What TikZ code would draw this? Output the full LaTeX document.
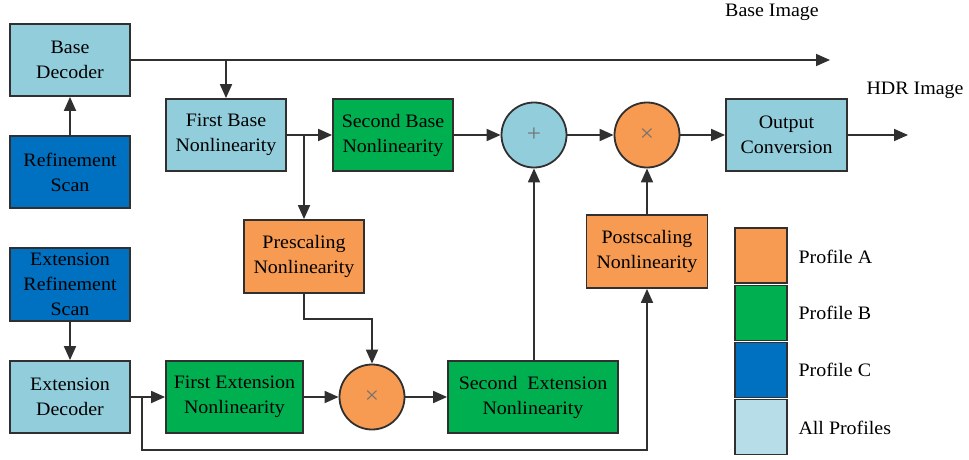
\documentclass[tikz,border=0pt]{standalone}
\usepackage{fontspec}
\setmainfont[FakeStretch=1.05]{Liberation Serif}
\usetikzlibrary{arrows.meta,calc}
\definecolor{lblue}{HTML}{92CDDC}
\definecolor{llblue}{HTML}{B7DEE8}
\definecolor{dblue}{HTML}{0070C0}
\definecolor{pgreen}{HTML}{00B050}
\definecolor{porange}{HTML}{F79A52}
\definecolor{edge}{HTML}{303030}
\tikzset{
  blk/.style={draw=edge, line width=1.8pt, minimum width=120pt, minimum height=72pt,
    align=center, inner sep=2pt, font=\fontsize{19}{25}\selectfont, text=black},
  op/.style={draw=edge, line width=1.8pt, circle, minimum size=65pt, inner sep=0pt,
    font=\fontsize{24}{24}\selectfont, text=black!55},
  lg/.style={draw=edge, line width=1.8pt, minimum width=52pt, minimum height=55pt},
  lbl/.style={font=\fontsize{19}{25}\selectfont, text=black},
  conn/.style={draw=edge, line width=1.8pt, -{Triangle[length=14pt,width=12pt]}},
  wire/.style={draw=edge, line width=1.8pt}
}
\begin{document}
\begin{tikzpicture}[x=1pt,y=-1pt]
\useasboundingbox (0,0) rectangle (969,460);
% blocks
\node[blk, fill=lblue] (bd) at (70,60) {Base\\Decoder};
\node[blk, fill=dblue] (rs) at (70,172) {Refinement\\Scan};
\node[blk, fill=lblue] (fb) at (226,135) {First Base\\Nonlinearity};
\node[blk, fill=pgreen] (sb) at (393,135) {Second Base\\Nonlinearity};
\node[op, fill=lblue] (plus) at (534,135) {+};
\node[op, fill=porange] (tm1) at (647,135) {×};
\node[blk, fill=lblue, minimum width=121pt] (oc) at (786.5,135) {Output\\Conversion};
\node[blk, fill=dblue, minimum height=73pt] (ers) at (70,284.5) {Extension\\Refinement\\Scan};
\node[blk, fill=lblue] (ed) at (70,397) {Extension\\Decoder};
\node[blk, fill=porange, minimum height=73pt] (pre) at (304,256.5) {Prescaling\\Nonlinearity};
\node[blk, fill=pgreen, minimum width=137pt] (fe) at (234.5,397) {First Extension\\Nonlinearity};
\node[op, fill=porange] (tm2) at (372,397) {×};
\node[blk, fill=pgreen, minimum width=170pt] (se) at (533,397) {Second\ \ Extension\\Nonlinearity};
\node[blk, fill=porange, minimum width=121pt, minimum height=73pt] (post) at (647,251.5) {Postscaling\\Nonlinearity};
% legend
\node[lg, fill=porange] (la) at (761,255.5) {};
\node[lg, fill=pgreen] (lb) at (761,313) {};
\node[lg, fill=dblue] (lc) at (761,370) {};
\node[lg, fill=llblue] (ld) at (761,427) {};
\node[lbl, anchor=west] (ta) at (795,257) {Profile A};
\node[lbl, anchor=west] (tb) at (795,313) {Profile B};
\node[lbl, anchor=west] (tc) at (795,370) {Profile C};
\node[lbl, anchor=west] (td) at (795,428) {All Profiles};
% output labels
\node[lbl] (bimg) at (772,12) {Base Image};
\node[lbl] (himg) at (915,90) {HDR Image};
\coordinate (bend) at (830,60);
\coordinate (hend) at (908,135);
\coordinate (pbr) at (304,135);
\coordinate (pturn1) at (304,319);
\coordinate (pturn2) at (372,319);
\coordinate (ebr) at (142,397);
\coordinate (eb1) at (142,450);
\coordinate (eb2) at (647,450);
% connectors
\draw[conn] (rs) -- (bd);
\draw[conn] (bd.east) -- (bend);
\draw[conn] (fb.north |- bd.east) -- (fb.north);
\draw[conn] (fb) -- (sb);
\draw[conn] (pbr) -- (pre.north);
\draw[conn] (sb) -- (plus);
\draw[conn] (plus) -- (tm1);
\draw[conn] (tm1) -- (oc);
\draw[conn] (oc.east) -- (hend);
\draw[conn] (ers) -- (ed);
\draw[conn] (ed) -- (fe);
\draw[conn] (ebr) -- (eb1) -- (eb2) -- (post.south);
\draw[conn] (pre.south) -- (pturn1) -- (pturn2) -- (tm2.north);
\draw[conn] (fe) -- (tm2);
\draw[conn] (tm2) -- (se);
\draw[conn] (plus.south |- se.north) -- (plus.south);
\draw[conn] (post.north) -- (tm1.south);
\end{tikzpicture}
\end{document}
